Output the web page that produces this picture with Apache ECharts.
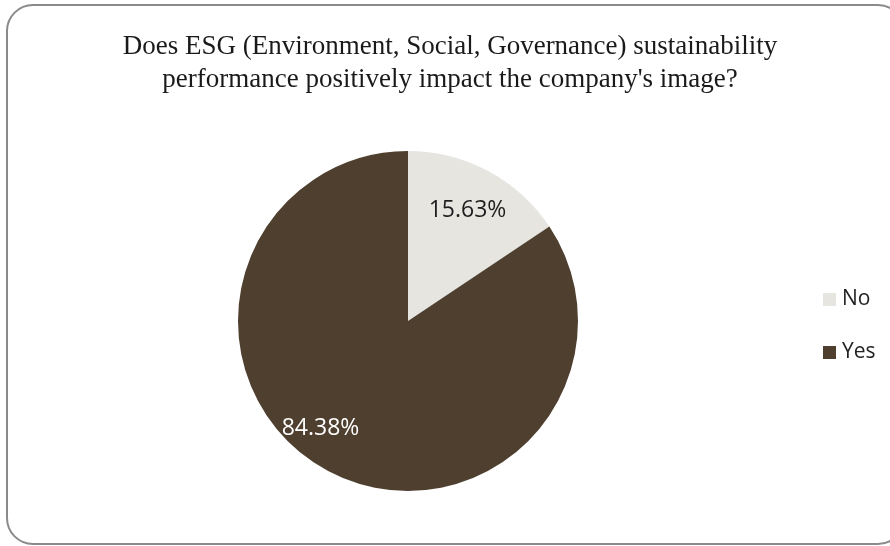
<!DOCTYPE html>
<html>
<head>
<meta charset="utf-8">
<style>
  html, body { margin: 0; padding: 0; background: #ffffff; }
  #chart { width: 890px; height: 546px; }
</style>
<script src="https://cdn.jsdelivr.net/npm/echarts@6/dist/echarts.min.js"></script>
</head>
<body>
<div id="chart"></div>
<script>
// Survey answers and their shares (%)
const categories = ['No', 'Yes'];
const shares = [15.63, 84.38];
const sliceColors = ['#e7e5e0', '#4f3f2f'];
const labelColors = ['#1e1e1e', '#ffffff'];
// Nudge of each percentage label from its default inside spot
const labelNudges = [[18, -33], [-46, 30]];

const titleText = "Does ESG (Environment, Social, Governance) sustainability\nperformance positively impact the company's image?";

const chart = echarts.init(document.getElementById('chart'), null, { renderer: 'canvas' });

chart.setOption({
  backgroundColor: '#ffffff',
  animation: false,
  graphic: [{
    type: 'rect',
    shape: { x: 7, y: 5, width: 897, height: 539, r: 26 },
    style: { fill: 'none', stroke: '#8a8a8a', lineWidth: 2 },
    z: -1
  }],
  title: {
    text: titleText,
    left: 445,
    top: 25,
    textAlign: 'center',
    textStyle: {
      fontFamily: 'Liberation Serif',
      fontWeight: 'normal',
      fontSize: 27,
      lineHeight: 33,
      color: '#1a1a1a'
    }
  },
  legend: {
    orient: 'vertical',
    left: 818,
    top: 284,
    itemWidth: 13,
    itemHeight: 13,
    itemGap: 32,
    icon: 'rect',
    textStyle: { fontFamily: 'Open Sans', fontSize: 21, color: '#222222', padding: [0, 0, 0, 1] },
    data: categories
  },
  series: [{
    type: 'pie',
    center: [408, 321],
    radius: [0, 170],
    startAngle: 90,
    clockwise: true,
    label: {
      show: true,
      position: 'inside',
      fontFamily: 'Open Sans',
      fontSize: 23,
      formatter: p => p.value.toFixed(2) + '%'
    },
    labelLine: { show: false },
    labelLayout: p => ({ dx: labelNudges[p.dataIndex][0], dy: labelNudges[p.dataIndex][1] }),
    itemStyle: { borderWidth: 0 },
    emphasis: { disabled: true },
    data: categories.map((name, i) => ({
      name,
      value: shares[i],
      itemStyle: { color: sliceColors[i] },
      label: { color: labelColors[i] }
    }))
  }]
});
</script>
</body>
</html>
